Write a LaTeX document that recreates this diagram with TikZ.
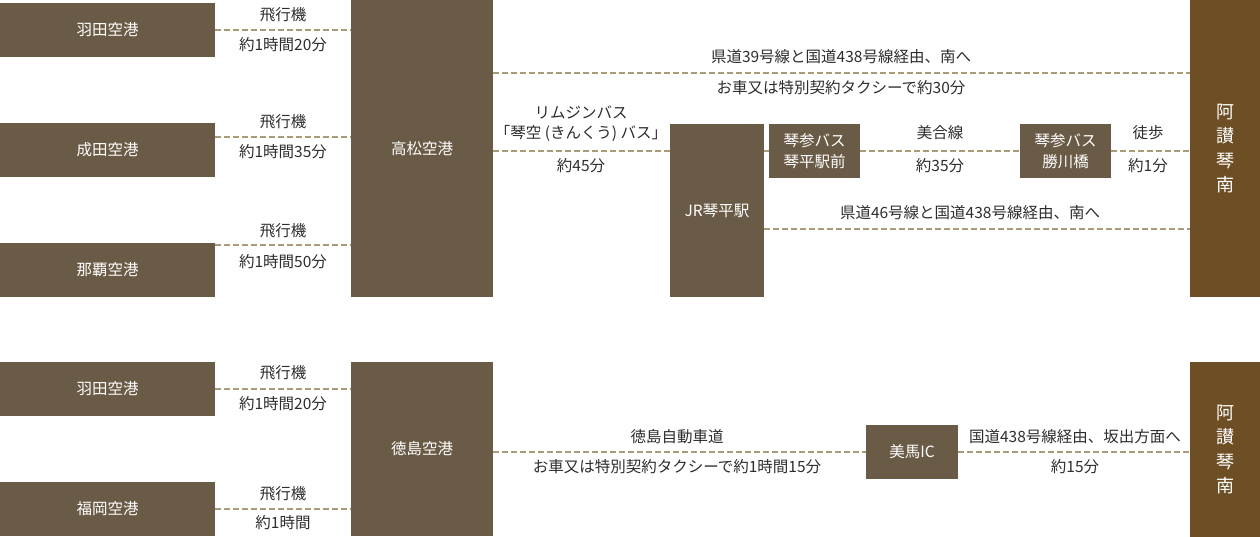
\documentclass[tikz,border=0pt]{standalone}
\usepackage{fontspec}
\newfontfamily\jp{Noto Sans CJK JP}
\definecolor{boxc}{RGB}{106,91,70}
\definecolor{destc}{RGB}{110,78,36}
\definecolor{dashc}{RGB}{170,155,120}
\definecolor{txtc}{RGB}{45,45,45}
\begin{document}
\begin{tikzpicture}[x=1pt,y=-1pt,
  box/.style={fill=boxc,text=white,inner sep=0pt,outer sep=0pt,anchor=north west,align=center,
    font=\jp\fontsize{15.5}{21}\selectfont},
  destbox/.style={fill=destc,text=white,inner sep=0pt,outer sep=0pt,anchor=north west,align=center,
    font=\jp\fontsize{18}{24.3}\selectfont},
  lbl/.style={text=txtc,inner sep=0pt,outer sep=0pt,align=center,font=\jp\fontsize{15.5}{21}\selectfont},
  route/.style={draw=dashc,line width=1.5pt,dash pattern=on 6pt off 3pt}]
\useasboundingbox (0,0) rectangle (1260,537);

% ---------- top section ----------
\node[box,minimum width=215,minimum height=54] (hnd1) at (0,3) {羽田空港};
\node[box,minimum width=215,minimum height=54] (nrt) at (0,123) {成田空港};
\node[box,minimum width=215,minimum height=54] (oka) at (0,243) {那覇空港};
\node[box,minimum width=142,minimum height=297] (tak) at (351,0) {高松空港};
\node[box,minimum width=94,minimum height=173] (jr) at (670,124) {JR琴平駅};
\node[box,minimum width=91,minimum height=54] (kb1) at (769,124) {琴参バス\\琴平駅前};
\node[box,minimum width=91,minimum height=54] (kb2) at (1020,124) {琴参バス\\勝川橋};
\node[destbox,minimum width=70,minimum height=297] (dest1) at (1190,0) {阿\\讃\\琴\\南};

\coordinate (y137) at (0,137);
\coordinate (y245) at (0,245);
\coordinate (y73) at (0,73);
\coordinate (y229) at (0,229);

\draw[route] (hnd1.east) -- (tak.west |- hnd1.east);
\draw[route] (nrt.east |- y137) -- (tak.west |- y137);
\draw[route] (oka.east |- y245) -- (tak.west |- y245);
\draw[route] (tak.east |- y73) -- (dest1.west |- y73);
\draw[route] (tak.east |- kb1.west) -- (jr.west |- kb1.west);
\draw[route] (jr.east |- kb1.west) -- (kb1.west);
\draw[route] (kb1.east) -- (kb2.west);
\draw[route] (kb2.east) -- (dest1.west |- kb2.east);
\draw[route] (jr.east |- y229) -- (dest1.west |- y229);

\node[lbl] (l1a) at (283,15) {飛行機};
\node[lbl] (l1b) at (283,45) {約1時間20分};
\node[lbl] (l2a) at (283,122) {飛行機};
\node[lbl] (l2b) at (283,152) {約1時間35分};
\node[lbl] (l3a) at (283,231) {飛行機};
\node[lbl] (l3b) at (283,262) {約1時間50分};
\node[lbl] (l4a) at (841,57) {県道39号線と国道438号線経由、南へ};
\node[lbl] (l4b) at (841,88) {お車又は特別契約タクシーで約30分};
\node[lbl] (l5a) at (581,112) {リムジンバス};
\node[lbl] (l5b) at (581,133) {「琴空 (きんくう) バス」};
\node[lbl] (l5c) at (581,166) {約45分};
\node[lbl] (l6a) at (940,133) {美合線};
\node[lbl] (l6b) at (940,166) {約35分};
\node[lbl] (l7a) at (1148,133) {徒歩};
\node[lbl] (l7b) at (1148,166) {約1分};
\node[lbl] (l8) at (970,213) {県道46号線と国道438号線経由、南へ};

% ---------- bottom section ----------
\node[box,minimum width=215,minimum height=54] (hnd2) at (0,362) {羽田空港};
\node[box,minimum width=215,minimum height=54] (fuk) at (0,482) {福岡空港};
\node[box,minimum width=142,minimum height=174] (tks) at (351,362) {徳島空港};
\node[box,minimum width=92,minimum height=54] (mima) at (866,425) {美馬IC};
\node[destbox,minimum width=70,minimum height=175] (dest2) at (1190,362) {阿\\讃\\琴\\南};

\draw[route] (hnd2.east) -- (tks.west |- hnd2.east);
\draw[route] (fuk.east) -- (tks.west |- fuk.east);
\draw[route] (tks.east |- mima.west) -- (mima.west);
\draw[route] (mima.east) -- (dest2.west |- mima.east);

\node[lbl] (m1a) at (283,373) {飛行機};
\node[lbl] (m1b) at (283,404) {約1時間20分};
\node[lbl] (m2a) at (283,494) {飛行機};
\node[lbl] (m2b) at (283,523) {約1時間};
\node[lbl] (m3a) at (677,437) {徳島自動車道};
\node[lbl] (m3b) at (677,467) {お車又は特別契約タクシーで約1時間15分};
\node[lbl] (m4a) at (1075,437) {国道438号線経由、坂出方面へ};
\node[lbl] (m4b) at (1075,467) {約15分};
\end{tikzpicture}
\end{document}
